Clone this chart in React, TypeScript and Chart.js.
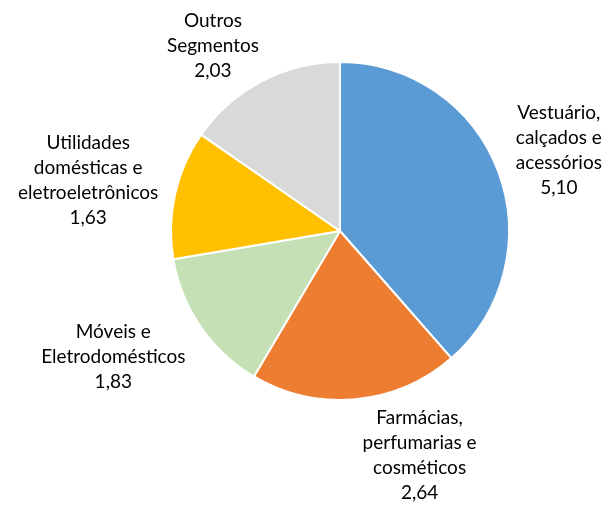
import React, { useEffect, useRef } from "react";
import { Chart, registerables } from "chart.js";

Chart.register(...registerables);

const categories: string[][] = [
  ["Vestuário,", "calçados e", "acessórios"],
  ["Farmácias,", "perfumarias e", "cosméticos"],
  ["Móveis e", "Eletrodomésticos"],
  ["Utilidades", "domésticas e", "eletroeletrônicos"],
  ["Outros", "Segmentos"],
];
const values: number[] = [5.1, 2.64, 1.83, 1.63, 2.03];
const colors: string[] = ["#5B9BD5", "#ED7D31", "#C5E0B4", "#FFC000", "#D9D9D9"];
// label placement: radial distance (in radii) and angle shift (degrees) from slice mid-angle
const labelDist: number[] = [1.38, 1.41, 1.535, 1.52, 1.33];
const labelShift: number[] = [0.4, -14.2, 5.4, -1.2, -6.8];

const FONT = "Lato, 'Open Sans', sans-serif";

const labelPlugin = {
  id: "outerLabels",
  afterDatasetsDraw(chart: any) {
    const ctx = chart.ctx;
    const meta = chart.getDatasetMeta(0);
    ctx.save();
    ctx.font = `19px ${FONT}`;
    ctx.fillStyle = "#000000";
    ctx.textAlign = "center";
    ctx.textBaseline = "middle";
    const lineH = 25;
    meta.data.forEach((arc: any, i: number) => {
      const p = arc.getProps(["x", "y", "startAngle", "endAngle", "outerRadius"], true);
      const mid = (p.startAngle + p.endAngle) / 2 + (labelShift[i] * Math.PI) / 180;
      const r = p.outerRadius * labelDist[i];
      const cx = p.x + Math.cos(mid) * r;
      const cy = p.y + Math.sin(mid) * r;
      const lines = [...categories[i], values[i].toFixed(2).replace(".", ",")];
      const top = cy - ((lines.length - 1) * lineH) / 2;
      lines.forEach((l, j) => ctx.fillText(l, cx, top + j * lineH));
    });
    ctx.restore();
  },
};

export default function App() {
  const ref = useRef<HTMLCanvasElement | null>(null);
  useEffect(() => {
    if (!ref.current) return;
    const chart = new Chart(ref.current, {
      type: "pie",
      data: {
        labels: categories.map((c) => c.join(" ")),
        datasets: [
          {
            data: values,
            backgroundColor: colors,
            borderColor: "#FFFFFF",
            borderWidth: 2,
          },
        ],
      },
      options: {
        animation: false,
        responsive: true,
        maintainAspectRatio: false,
        layout: { padding: { left: 170, right: 94, top: 61, bottom: 106 } },
        plugins: {
          legend: { display: false },
          tooltip: { enabled: false },
        },
      },
      plugins: [labelPlugin],
    });
    return () => chart.destroy();
  }, []);
  return (
    <div style={{ position: "absolute", left: 0, top: 0, width: 604, height: 507, background: "#fff" }}>
      <canvas ref={ref} />
    </div>
  );
}
